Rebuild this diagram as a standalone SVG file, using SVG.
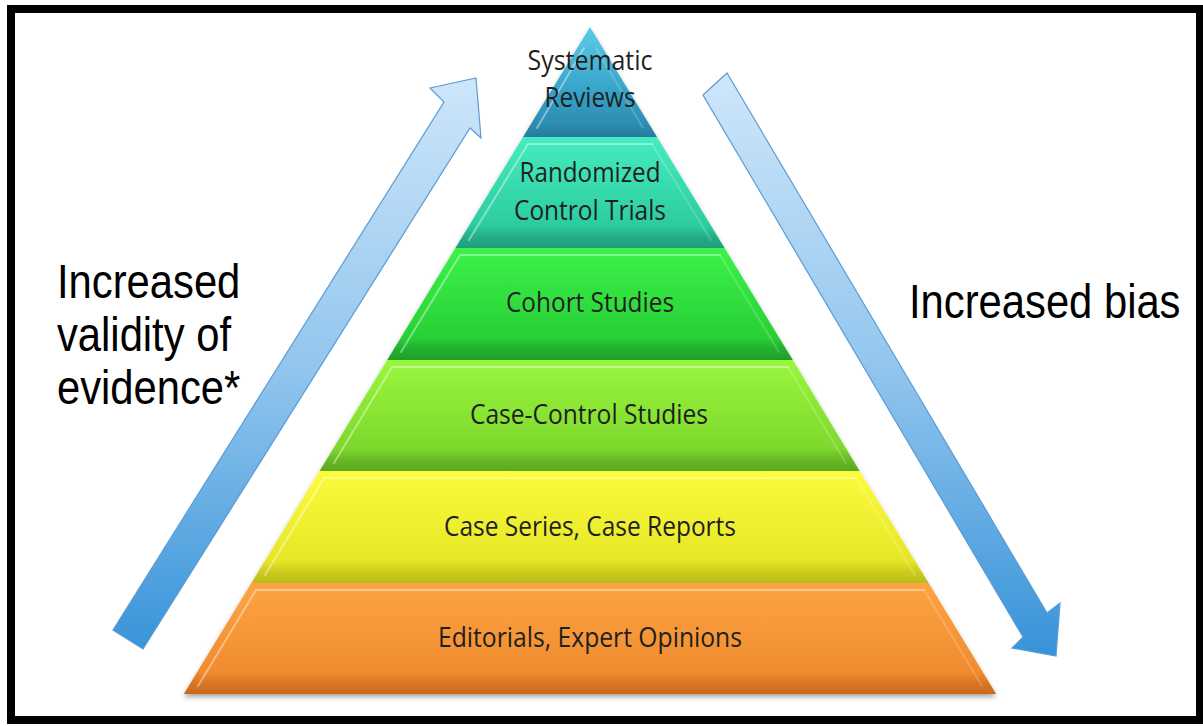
<svg xmlns="http://www.w3.org/2000/svg" width="1203" height="726" viewBox="0 0 1203 726">
  <style>
    .lvl { font-family: "Open Sans", "DejaVu Sans", sans-serif; font-size: 27px; fill: #1f1f1f; text-anchor: middle; }
    .side { font-family: "Liberation Sans", Arial, sans-serif; font-size: 48px; fill: #000; }
    .hl { fill: none; stroke: #ffffff; stroke-opacity: 0.4; stroke-width: 2; stroke-linejoin: round; stroke-linecap: round; }
    .hr { fill: none; stroke: #ffffff; stroke-opacity: 0.18; stroke-width: 2; stroke-linecap: round; }
    .arrow { stroke: #5b9bd5; stroke-width: 1.2; stroke-linejoin: miter; }
  </style>
  <defs>
    <linearGradient id="gArrow" x1="0" y1="70" x2="0" y2="660" gradientUnits="userSpaceOnUse">
      <stop offset="0" stop-color="#cfe7fa"/>
      <stop offset="0.5" stop-color="#93c6ee"/>
      <stop offset="1" stop-color="#3592d8"/>
    </linearGradient>
    <linearGradient id="g1" x1="0" y1="0" x2="0" y2="1">
      <stop offset="0" stop-color="#5ccbe8"/>
      <stop offset="0.6" stop-color="#35a2c8"/>
      <stop offset="0.88" stop-color="#2d8db2"/>
      <stop offset="1" stop-color="#267a9c"/>
    </linearGradient>
    <linearGradient id="g2" x1="0" y1="0" x2="0" y2="1">
      <stop offset="0" stop-color="#46ecc0"/>
      <stop offset="0.8" stop-color="#2ccca0"/>
      <stop offset="0.9" stop-color="#24ae88"/>
      <stop offset="1" stop-color="#209c7a"/>
    </linearGradient>
    <linearGradient id="g3" x1="0" y1="0" x2="0" y2="1">
      <stop offset="0" stop-color="#3cf24a"/>
      <stop offset="0.8" stop-color="#28d036"/>
      <stop offset="0.9" stop-color="#22b02e"/>
      <stop offset="1" stop-color="#1f9e2a"/>
    </linearGradient>
    <linearGradient id="g4" x1="0" y1="0" x2="0" y2="1">
      <stop offset="0" stop-color="#9af63e"/>
      <stop offset="0.8" stop-color="#7ed82c"/>
      <stop offset="0.9" stop-color="#68b824"/>
      <stop offset="1" stop-color="#5ca620"/>
    </linearGradient>
    <linearGradient id="g5" x1="0" y1="0" x2="0" y2="1">
      <stop offset="0" stop-color="#fcfc3c"/>
      <stop offset="0.8" stop-color="#e6e628"/>
      <stop offset="0.9" stop-color="#cccc1e"/>
      <stop offset="1" stop-color="#baba1a"/>
    </linearGradient>
    <linearGradient id="g6" x1="0" y1="0" x2="0" y2="1">
      <stop offset="0" stop-color="#fda444"/>
      <stop offset="0.8" stop-color="#f08c2e"/>
      <stop offset="0.9" stop-color="#dc7622"/>
      <stop offset="1" stop-color="#c8691e"/>
    </linearGradient>
    <filter id="shadow" x="-10%" y="-10%" width="120%" height="120%">
      <feDropShadow dx="0" dy="3" stdDeviation="2.5" flood-color="#000" flood-opacity="0.35"/>
    </filter>
  </defs>

  <rect x="0" y="0" width="1203" height="726" fill="#ffffff"/>
  <rect id="frame" x="11" y="9" width="1189" height="711" fill="none" stroke="#000" stroke-width="8"/>

  <g id="connectors">
    <polygon id="arrow-up" class="arrow" fill="url(#gArrow)" points="113,630 444,102 430,88 476,78 481,138 470,128 143,649"/>
    <polygon id="arrow-down" class="arrow" fill="url(#gArrow)" points="703,95 727,73 1047,613 1060,603 1056,656 1012,648 1023,637"/>
  </g>

  <g id="pyramid" filter="url(#shadow)">
    <g id="level-editorials">
      <polygon points="251.4,583 928.6,583 996.2,694 183.8,694" fill="url(#g6)"/>
      <polyline class="hl" points="198,686 256,590 924,590"/>
      <polyline class="hr" points="924,590 982,686"/>
    </g>
    <g id="level-case-series">
      <polygon points="319.6,471 859.6,471 928.6,583 251.4,583" fill="url(#g5)"/>
      <polyline class="hl" points="265,575 324,478 856,478"/>
      <polyline class="hr" points="856,478 915,575"/>
    </g>
    <g id="level-case-control">
      <polygon points="387.2,360 792.8,360 859.6,471 319.6,471" fill="url(#g4)"/>
      <polyline class="hl" points="334,463 392,367 788,367"/>
      <polyline class="hr" points="788,367 846,463"/>
    </g>
    <g id="level-cohort">
      <polygon points="455.4,248 724.6,248 792.8,360 387.2,360" fill="url(#g3)"/>
      <polyline class="hl" points="401,352 460,255 720,255"/>
      <polyline class="hr" points="720,255 779,352"/>
    </g>
    <g id="level-rct">
      <polygon points="523,137 657,137 724.6,248 455.4,248" fill="url(#g2)"/>
      <polyline class="hl" points="469,240 528,144 652,144"/>
      <polyline class="hr" points="652,144 711,240"/>
    </g>
    <g id="level-systematic">
      <polygon points="590,27 657,137 523,137" fill="url(#g1)"/>
      <polyline class="hl" points="537,128 584,48"/>
      <polyline class="hr" points="596,48 643,128"/>
    </g>
  </g>

  <g id="labels-levels">
    <text class="lvl" x="590" y="70" textLength="125" lengthAdjust="spacingAndGlyphs">Systematic</text>
    <text class="lvl" x="590" y="107" textLength="91" lengthAdjust="spacingAndGlyphs">Reviews</text>
    <text class="lvl" x="590" y="182" textLength="141" lengthAdjust="spacingAndGlyphs">Randomized</text>
    <text class="lvl" x="590" y="220" textLength="152" lengthAdjust="spacingAndGlyphs">Control Trials</text>
    <text class="lvl" x="590" y="312" textLength="168" lengthAdjust="spacingAndGlyphs">Cohort Studies</text>
    <text class="lvl" x="589" y="424" textLength="238" lengthAdjust="spacingAndGlyphs">Case-Control Studies</text>
    <text class="lvl" x="590" y="536" textLength="292" lengthAdjust="spacingAndGlyphs">Case Series, Case Reports</text>
    <text class="lvl" x="590" y="647" textLength="304" lengthAdjust="spacingAndGlyphs">Editorials, Expert Opinions</text>
  </g>

  <g id="label-validity" transform="translate(57,0) scale(0.87,1)">
    <text class="side" x="0" y="298">Increased</text>
    <text class="side" x="0" y="351">validity of</text>
    <text class="side" x="0" y="404">evidence*</text>
  </g>
  <g id="label-bias" transform="translate(909,318) scale(0.87,1)">
    <text class="side" x="0" y="0">Increased bias</text>
  </g>
</svg>
